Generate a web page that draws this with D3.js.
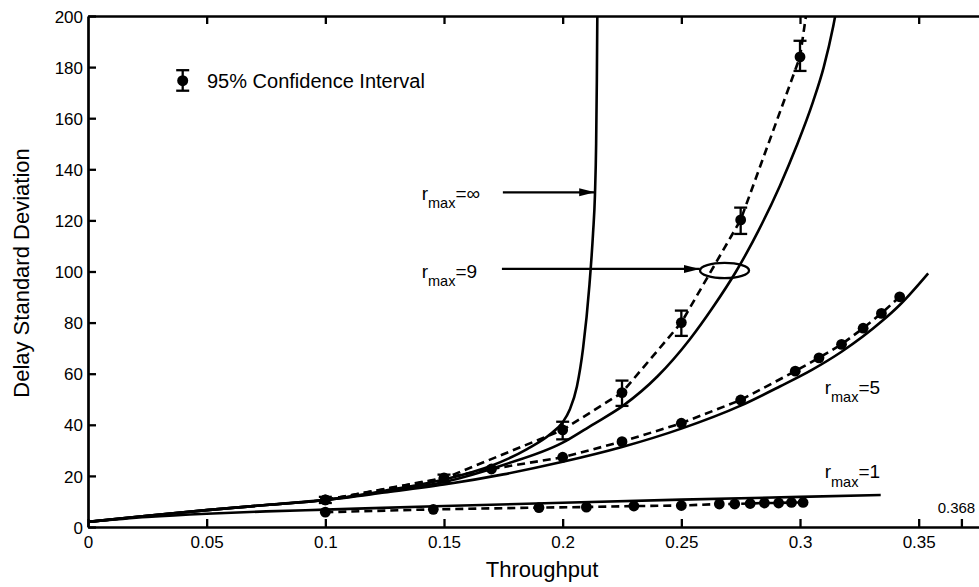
<!DOCTYPE html>
<html><head><meta charset="utf-8">
<script src="https://cdn.jsdelivr.net/npm/d3@7"></script>
<style>
body{margin:0;background:#fff}
svg{display:block}
text{font-family:"Liberation Sans",Arial,Helvetica,sans-serif;fill:#000}
</style>
</head><body>
<svg id="c" width="979" height="587"></svg>
<script>
// ---------- data ----------
const xTickValues = [0, 0.05, 0.1, 0.15, 0.2, 0.25, 0.3, 0.35];
const xTickLabels = ["0", "0.05", "0.1", "0.15", "0.2", "0.25", "0.3", "0.35"];
const yTickValues = [0, 20, 40, 60, 80, 100, 120, 140, 160, 180, 200];
const yTickLabels = ["0", "20", "40", "60", "80", "100", "120", "140", "160", "180", "200"];
const markTick = 0.368;
const markTickLabel = "0.368";

// analytic curves (solid)
const theoryInf = [[0,2],[0.025,4.4],[0.05,6.6],[0.075,8.6],[0.1,10.6],[0.125,14.2],[0.15,18.6],[0.17,24],[0.185,30.5],[0.195,36.5],[0.2,41],[0.203,46],[0.206,55],[0.2086,70],[0.2113,95],[0.2128,115],[0.2136,130],[0.2141,150],[0.2144,175],[0.2146,200]];
const theory9 = [[0,2],[0.025,4.4],[0.05,6.6],[0.075,8.6],[0.1,10.6],[0.125,13.9],[0.15,17.6],[0.175,24.3],[0.2,33],[0.2125,40],[0.2255,47.5],[0.24,59],[0.2536,73.5],[0.2633,86],[0.2733,100.4],[0.2825,116],[0.2915,133.5],[0.2985,149],[0.3055,166.5],[0.31,180],[0.314,196],[0.316,206]];
const theory5 = [[0,2],[0.025,4.4],[0.05,6.6],[0.075,8.6],[0.1,10.6],[0.125,13.5],[0.15,16.6],[0.175,20.6],[0.2,25.5],[0.225,31.3],[0.25,38.5],[0.275,47.5],[0.2915,55],[0.305,61.5],[0.3175,68.6],[0.3343,80.4],[0.342,86.9],[0.354,99.3]];
const theory1 = [[0,2],[0.025,3.9],[0.05,5.2],[0.075,6.1],[0.1,6.8],[0.15,8.2],[0.2,9.5],[0.25,10.7],[0.3,11.8],[0.334,12.5]];

// simulation results (dashed + dots); r_max=9 with 95% CI [x, mean, low, high]
const sim9 = [[0.1,10.6,9.4,11.8],[0.15,19,17.5,20.5],[0.2,38,34.3,41.2],[0.225,52.6,47.4,57.3],[0.25,80,74.8,84.7],[0.275,120.2,114.7,125],[0.3,184,178.5,190.3],[0.305,216,210,222]];
const sim5 = [[0.1,10.6],[0.15,19.2],[0.17,22.7],[0.2,27.3],[0.225,33.4],[0.25,40.6],[0.275,49.7],[0.298,61],[0.308,66.2],[0.3175,71.5],[0.3266,77.8],[0.3343,83.6],[0.342,90.1]];
const sim1 = [[0.1,5.8],[0.1455,6.9],[0.19,7.6],[0.21,7.8],[0.23,8.2],[0.25,8.4],[0.266,9.0],[0.2725,9.0],[0.279,9.2],[0.285,9.4],[0.291,9.4],[0.2964,9.6],[0.3013,9.6]];

const legendLabel = "95% Confidence Interval";
const xTitle = "Throughput";
const yTitle = "Delay Standard Deviation";

// ---------- drawing ----------
const svg = d3.select("#c");
const L = 88, T = 16, B = 527, R = 997;
const x = d3.scaleLinear().domain([0, 0.383]).range([L, R]);
const y = d3.scaleLinear().domain([0, 200]).range([B, T]);
const SW = 2.6;

const defs = svg.append("defs");
defs.append("clipPath").attr("id","clip").append("rect")
  .attr("x", L).attr("y", T).attr("width", R - L).attr("height", B - T);
defs.append("marker").attr("id","arr").attr("viewBox","0 0 16 10")
  .attr("refX",16).attr("refY",5).attr("markerWidth",16).attr("markerHeight",10)
  .attr("markerUnits","userSpaceOnUse").attr("orient","auto")
  .append("path").attr("d","M0,1 L16,5 L0,9 Z").attr("fill","#000");

// axes
const fs = 17;
const gx = svg.append("g").attr("transform",`translate(0,${B})`)
  .call(d3.axisBottom(x).tickValues(xTickValues.concat([markTick])).tickSizeInner(-8).tickSizeOuter(0)
    .tickPadding(9).tickFormat(d => { const i = xTickValues.indexOf(d); return i >= 0 ? xTickLabels[i] : ""; }));
const gt = svg.append("g").attr("transform",`translate(0,${T})`)
  .call(d3.axisTop(x).tickValues(xTickValues.slice(1)).tickSizeInner(-8).tickSizeOuter(0).tickFormat(""));
const gy = svg.append("g").attr("transform",`translate(${L},0)`)
  .call(d3.axisLeft(y).tickValues(yTickValues).tickSizeInner(-8).tickSizeOuter(0).tickPadding(5)
    .tickFormat((d,i) => yTickLabels[i]));
[gx, gt, gy].forEach(g => {
  g.select(".domain").attr("stroke","#000").attr("stroke-width",2.7);
  g.selectAll(".tick line").attr("stroke","#000").attr("stroke-width",2.3);
  g.selectAll("text").style("font-size", fs + "px").attr("fill","#000")
    .style("font-family",'"Liberation Sans",Arial,sans-serif');
});
gy.selectAll(".tick text").attr("dy","0.36em");

svg.append("text").attr("x", x(markTick) - 5).attr("y", B - 14)
  .attr("text-anchor","middle").style("font-size","15px").text(markTickLabel);

// axis titles
svg.append("text").attr("x", 542).attr("y", 577).attr("text-anchor","middle")
  .style("font-size","22px").text(xTitle);
svg.append("text").attr("transform","translate(29,273) rotate(-90)").attr("text-anchor","middle")
  .style("font-size","22px").text(yTitle);

// plot content
const plot = svg.append("g").attr("clip-path","url(#clip)");
const smooth = d3.line().x(d => x(d[0])).y(d => y(d[1])).curve(d3.curveMonotoneX);
const straight = d3.line().x(d => x(d[0])).y(d => y(d[1]));

[theoryInf, theory9, theory5, theory1].forEach(s => {
  plot.append("path").datum(s).attr("d", smooth).attr("fill","none")
    .attr("stroke","#000").attr("stroke-width",SW);
});
[sim9, sim5, sim1].forEach(s => {
  plot.append("path").datum(s).attr("d", straight).attr("fill","none")
    .attr("stroke","#000").attr("stroke-width",SW).attr("stroke-dasharray","8,5");
});

// error bars (r_max = 9)
const cap = 6.5;
const eb = plot.append("g").attr("stroke","#000").attr("stroke-width",2.3);
sim9.forEach(d => {
  eb.append("line").attr("x1",x(d[0])).attr("x2",x(d[0])).attr("y1",y(d[2])).attr("y2",y(d[3]));
  eb.append("line").attr("x1",x(d[0])-cap).attr("x2",x(d[0])+cap).attr("y1",y(d[2])).attr("y2",y(d[2]));
  eb.append("line").attr("x1",x(d[0])-cap).attr("x2",x(d[0])+cap).attr("y1",y(d[3])).attr("y2",y(d[3]));
});
[sim9, sim5, sim1].forEach(s => {
  plot.selectAll(null).data(s).enter().append("circle")
    .attr("cx", d => x(d[0])).attr("cy", d => y(d[1])).attr("r", 5.4).attr("fill","#000");
});

// legend
const lg = svg.append("g");
const lx = 182.7, ly = 80.7;
lg.append("line").attr("x1",lx).attr("x2",lx).attr("y1",ly-10.5).attr("y2",ly+10).attr("stroke","#000").attr("stroke-width",2.3);
lg.append("line").attr("x1",lx-cap).attr("x2",lx+cap).attr("y1",ly-10.5).attr("y2",ly-10.5).attr("stroke","#000").attr("stroke-width",2.3);
lg.append("line").attr("x1",lx-cap).attr("x2",lx+cap).attr("y1",ly+10).attr("y2",ly+10).attr("stroke","#000").attr("stroke-width",2.3);
lg.append("circle").attr("cx",lx).attr("cy",ly).attr("r",5.5).attr("fill","#000");
lg.append("text").attr("x",207).attr("y",87.5).style("font-size","20px").text(legendLabel);

// annotations
function rlabel(xv, yv, val) {
  const t = svg.append("text").attr("x", x(xv)).attr("y", y(yv)).style("font-size","19px");
  t.append("tspan").text("r");
  t.append("tspan").attr("dy", 8.5).style("font-size","14.5px").text("max");
  t.append("tspan").attr("dy", -8.5).text("=" + val);
}
rlabel(0.1406, 128, "∞");
rlabel(0.1406, 97.6, "9");
rlabel(0.3104, 52.2, "5");
rlabel(0.3104, 19.1, "1");

svg.append("line").attr("x1", x(0.1748)).attr("x2", x(0.2137)).attr("y1", y(131)).attr("y2", y(131))
  .attr("stroke","#000").attr("stroke-width",2.3).attr("marker-end","url(#arr)");
svg.append("line").attr("x1", x(0.1744)).attr("x2", x(0.2578)).attr("y1", y(101)).attr("y2", y(101))
  .attr("stroke","#000").attr("stroke-width",2.3).attr("marker-end","url(#arr)");
svg.append("ellipse").attr("cx", x(0.2682)).attr("cy", y(100.4)).attr("rx", 24.5).attr("ry", 7.6)
  .attr("fill","none").attr("stroke","#000").attr("stroke-width",2.3);
</script>
</body></html>
